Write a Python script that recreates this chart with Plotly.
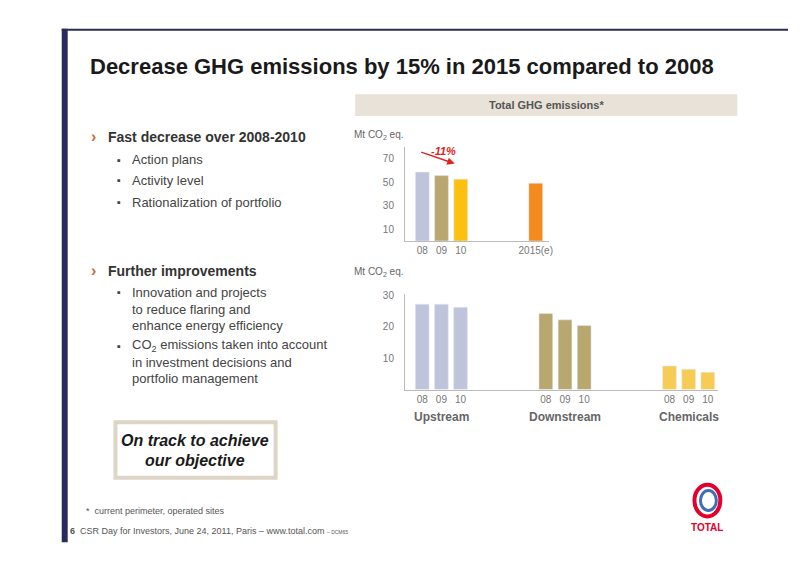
import plotly.graph_objects as go

W, H = 784, 550
OFF = 8
def px(x): return (x - OFF) / W
def py(y): return 1 - (y - OFF) / H

# Top chart data
top_labels = ["08", "09", "10", "2015(e)"]
top_pos = [0, 1, 2, 5.9]
top_values = [58.5, 55.5, 52.5, 49]
top_colors = ["#c0c4da", "#b8a870", "#fdc010", "#f28a1e"]

# Bottom chart data
segments = ["Upstream", "Downstream", "Chemicals"]
years = ["08", "09", "10"]
seg_values = {"Upstream": [27.2, 27.2, 26.2],
              "Downstream": [24.2, 22.2, 20.4],
              "Chemicals": [7.5, 6.5, 5.5]}
seg_colors = {"Upstream": "#c0c4da", "Downstream": "#b8a870", "Chemicals": "#f7cc55"}
GAP = 6.45

fig = go.Figure()
fig.add_trace(go.Bar(x=top_pos, y=top_values, marker_color=top_colors, width=0.72,
                     xaxis="x", yaxis="y", showlegend=False, hoverinfo="skip"))
bx, by, bc, bt = [], [], [], []
for g, s in enumerate(segments):
    for k, v in enumerate(seg_values[s]):
        bx.append(g * GAP + k); by.append(v); bc.append(seg_colors[s]); bt.append(years[k])
fig.add_trace(go.Bar(x=bx, y=by, marker_color=bc, width=0.72, xaxis="x2", yaxis="y2",
                     showlegend=False, hoverinfo="skip"))

axfont = dict(family="Liberation Sans", size=10, color="#777")
fig.update_layout(
    width=W, height=H, margin=dict(l=0, r=0, t=0, b=0),
    paper_bgcolor="white", plot_bgcolor="white",
    xaxis=dict(domain=[px(407), px(552)], range=[-0.9, 6.6], tickvals=top_pos, ticktext=top_labels,
               showline=True, linecolor="#bbb", ticks="", showgrid=False, zeroline=False,
               tickfont=axfont, ticklabelstandoff=0),
    yaxis=dict(domain=[py(238), py(143)], range=[0, 80], tickvals=[10, 30, 50, 70],
               showline=True, linecolor="#bbb", showgrid=False, zeroline=False, ticks="",
               tickfont=axfont, ticklabelstandoff=8),
    xaxis2=dict(domain=[px(407), px(722)], range=[-0.9, 2 * GAP + 2.55], tickvals=bx, ticktext=bt,
                showline=True, linecolor="#bbb", ticks="", showgrid=False, zeroline=False,
                tickfont=axfont, anchor="y2", ticklabelstandoff=0),
    yaxis2=dict(domain=[py(388), py(292)], range=[0, 30.3], tickvals=[10, 20, 30],
                showline=True, linecolor="#bbb", showgrid=False, zeroline=False, ticks="",
                tickfont=axfont, anchor="x2", ticklabelstandoff=8),
)

shapes = [
    dict(type="rect", xref="paper", yref="paper", x0=px(62), x1=px(68), y0=py(542), y1=py(24),
         fillcolor="#2b2a5e", line_width=0),
    dict(type="line", xref="paper", yref="paper", x0=px(62), x1=1, y0=py(25), y1=py(25),
         line=dict(color="#2b2a5e", width=2)),
    dict(type="rect", xref="paper", yref="paper", x0=px(357), x1=px(741), y0=py(112), y1=py(90),
         fillcolor="#e8e2d8", line_width=0),
    dict(type="rect", xref="paper", yref="paper", x0=px(116), x1=px(277), y0=py(477), y1=py(421),
         fillcolor="white", line=dict(color="#ddd5c5", width=4)),
    dict(type="circle", xref="paper", yref="paper", x0=px(698), x1=px(724), y0=py(516), y1=py(484),
         line=dict(color="#e4002b", width=4)),
    dict(type="circle", xref="paper", yref="paper", x0=px(704), x1=px(720), y0=py(510), y1=py(490),
         line=dict(color="#3d6fb6", width=3)),
]
fig.update_layout(shapes=shapes)

ann = []
def T(x, y, text, size=12, color="#444", bold=False, italic=False, anchor="left", family="Liberation Sans"):
    if bold: text = "<b>" + text + "</b>"
    if italic: text = "<i>" + text + "</i>"
    ann.append(dict(x=px(x), y=py(y), xref="paper", yref="paper", text=text, showarrow=False,
                    xanchor=anchor, yanchor="middle", font=dict(size=size, color=color, family=family)))

T(88, 62, "Decrease GHG emissions by 15% in 2015 compared to 2008", 22, "#1a1a1a", bold=True)
T(549, 101, "Total GHG emissions*", 11, "#555", bold=True, anchor="center")
T(354, 131, "Mt CO<sub>2</sub> eq.", 10, "#666")
T(354, 269, "Mt CO<sub>2</sub> eq.", 10, "#666")
T(446, 147, "-11%", 11, "#e0241b", bold=True, italic=True, anchor="center")

T(89, 133, "›", 16, "#c86a3a", bold=True)
T(106, 133, "Fast decrease over 2008-2010", 14, "#333", bold=True)
for y, t in [(156, "Action plans"), (177, "Activity level"), (199, "Rationalization of portfolio")]:
    T(116, y, "▪", 11, "#444"); T(131, y, t, 13, "#444")
T(89, 268, "›", 16, "#c86a3a", bold=True)
T(106, 268, "Further improvements", 14, "#333", bold=True)
T(116, 290, "▪", 11, "#444")
for y, t in [(290, "Innovation and projects"), (307, "to reduce flaring and"), (323, "enhance energy efficiency")]:
    T(131, y, t, 13, "#444")
T(116, 344, "▪", 11, "#444")
for y, t in [(344, "CO<sub>2</sub> emissions taken into account"), (361, "in investment decisions and"), (377, "portfolio management")]:
    T(131, y, t, 13, "#444")
T(196, 439, "On track to achieve", 16, "#1a1a1a", bold=True, italic=True, anchor="center")
T(196, 460, "our objective", 16, "#1a1a1a", bold=True, italic=True, anchor="center")

T(84, 511, "*  current perimeter, operated sites", 9, "#555")
T(68, 531, "<b>6</b>  CSR Day for Investors, June 24, 2011, Paris – www.total.com <span style='font-size:5px'>– DCM65</span>", 9, "#555")
T(711, 527, "TOTAL", 10, "#e4002b", bold=True, anchor="center")

for g, s in enumerate(segments):
    ann.append(dict(x=g * GAP + 1, y=py(416), xref="x2", yref="paper", text="<b>" + s + "</b>",
                    showarrow=False, yanchor="middle",
                    font=dict(size=12, color="#666", family="Liberation Sans")))
ann.append(dict(x=px(457), y=py(160), ax=-35, ay=-12, xref="paper", yref="paper",
                text="", showarrow=True, arrowhead=2,
                arrowsize=1, arrowwidth=1.5, arrowcolor="#e0241b"))
fig.update_layout(annotations=ann)

fig.write_html("out.html")
